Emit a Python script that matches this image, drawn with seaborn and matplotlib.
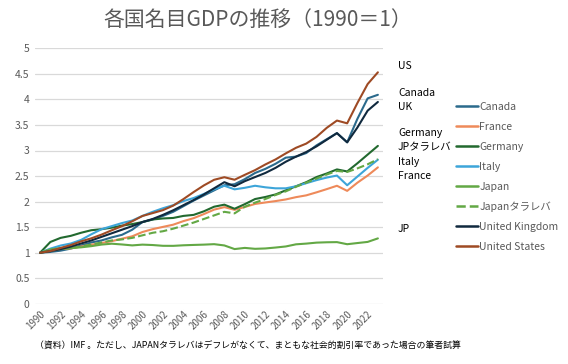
import numpy as np
import pandas as pd
import matplotlib
matplotlib.use("Agg")
import matplotlib.pyplot as plt
import seaborn as sns
from matplotlib.lines import Line2D

# data (1990 = 1)
years = list(range(1990, 2024))

canada = [1.00, 1.015, 1.04, 1.08, 1.14, 1.20, 1.24, 1.30, 1.35, 1.45, 1.60, 1.65, 1.72, 1.80, 1.91, 2.02, 2.12, 2.22, 2.32, 2.34,
          2.44, 2.56, 2.64, 2.74, 2.86, 2.88, 2.95, 3.10, 3.22, 3.34, 3.16, 3.62, 4.02, 4.09]
france = [1.00, 1.036, 1.073, 1.085, 1.12, 1.157, 1.19, 1.226, 1.274, 1.321, 1.405, 1.461, 1.505, 1.548, 1.618, 1.676, 1.756, 1.843, 1.892, 1.839,
          1.895, 1.954, 1.983, 2.010, 2.042, 2.087, 2.122, 2.181, 2.244, 2.31, 2.21, 2.37, 2.51, 2.67]
germany = [1.00, 1.21, 1.29, 1.33, 1.39, 1.44, 1.46, 1.49, 1.53, 1.56, 1.60, 1.65, 1.67, 1.68, 1.72, 1.74, 1.81, 1.90, 1.94, 1.86,
           1.95, 2.05, 2.09, 2.14, 2.22, 2.30, 2.38, 2.48, 2.55, 2.63, 2.59, 2.75, 2.92, 3.09]
italy = [1.00, 1.08, 1.14, 1.18, 1.25, 1.36, 1.46, 1.52, 1.58, 1.63, 1.72, 1.80, 1.87, 1.93, 2.01, 2.07, 2.15, 2.24, 2.31, 2.24,
         2.27, 2.31, 2.28, 2.26, 2.26, 2.30, 2.36, 2.42, 2.47, 2.51, 2.32, 2.49, 2.66, 2.82]
japan = [1.00, 1.064, 1.091, 1.092, 1.105, 1.128, 1.159, 1.176, 1.161, 1.143, 1.158, 1.150, 1.135, 1.134, 1.145, 1.152, 1.158, 1.167, 1.142, 1.071,
         1.094, 1.076, 1.083, 1.101, 1.122, 1.164, 1.178, 1.197, 1.204, 1.207, 1.166, 1.189, 1.211, 1.28]
japan_tarareba = [1.00, 1.04, 1.07, 1.09, 1.12, 1.16, 1.20, 1.24, 1.26, 1.29, 1.34, 1.39, 1.42, 1.47, 1.53, 1.59, 1.66, 1.73, 1.80, 1.77,
                  1.90, 1.98, 2.05, 2.13, 2.20, 2.29, 2.37, 2.45, 2.53, 2.60, 2.58, 2.65, 2.73, 2.83]
uk = [1.00, 1.03, 1.07, 1.12, 1.18, 1.24, 1.31, 1.38, 1.45, 1.52, 1.60, 1.66, 1.74, 1.83, 1.93, 2.03, 2.14, 2.26, 2.38, 2.30,
      2.40, 2.48, 2.56, 2.66, 2.78, 2.88, 2.97, 3.08, 3.21, 3.34, 3.16, 3.45, 3.78, 3.95]
us = [1.00, 1.033, 1.093, 1.150, 1.222, 1.281, 1.354, 1.439, 1.520, 1.615, 1.719, 1.775, 1.833, 1.921, 2.049, 2.187, 2.317, 2.427, 2.477, 2.428,
      2.524, 2.616, 2.726, 2.825, 2.943, 3.053, 3.135, 3.266, 3.443, 3.586, 3.532, 3.93, 4.30, 4.53]

series_names = ["Canada", "France", "Germany", "Italy", "Japan", "Japanタラレバ", "United Kingdom", "United States"]
series_values = [canada, france, germany, italy, japan, japan_tarareba, uk, us]
colors = ["#2B6A8C", "#EE8A5A", "#22692F", "#3DA5D9", "#63A845", "#63A845", "#10293E", "#9E4A24"]

end_labels = ["US", "Canada", "UK", "Germany", "JPタラレバ", "Italy", "France", "JP"]
end_label_y = [66, 93, 107, 133, 147, 162, 176, 229]  # pixel rows of the side notes

sns.set_theme(style="white")
plt.rcParams['font.family'] = ['Noto Sans CJK JP', 'DejaVu Sans']

W, H = 568, 364
fig = plt.figure(figsize=(W / 100, H / 100), dpi=100)
ax = fig.add_axes([35 / W, 1 - 303.8 / H, (383 - 35) / W, (303.8 - 48.3) / H])

df = pd.DataFrame({"year": years})
for name, vals, c in zip(series_names, series_values, colors):
    df[name] = vals
    sns.lineplot(x=df["year"], y=df[name], color=c, lw=1.5,
                 linestyle="--" if "タラレバ" in name else "-", ax=ax, zorder=3)

ax.set_xlim(1989.5, 2023.5)
ax.set_ylim(0, 5)
ax.set_yticks(np.arange(0, 5.01, 0.5))
ax.set_yticklabels(["0", "0.5", "1", "1.5", "2", "2.5", "3", "3.5", "4", "4.5", "5"], fontsize=7.5, color="#595959")
ax.set_xticks(years[::2])
ax.set_xticklabels([str(y) for y in years[::2]], rotation=45, ha="right", rotation_mode="anchor",
                   fontsize=7, color="#595959")
ax.tick_params(axis="both", length=0, pad=4)
ax.grid(axis="y", color="#D9D9D9", lw=0.9)
ax.grid(axis="x", visible=False)
for s in ax.spines.values():
    s.set_visible(False)
ax.set_xlabel("")
ax.set_ylabel("")

fig.text(258 / W, 1 - 20 / H, "各国名目GDPの推移（1990＝1）", ha="center", va="center",
         fontsize=15, color="#595959")

for lab, yy in zip(end_labels, end_label_y):
    fig.text(398 / W, 1 - yy / H, lab, ha="left", va="center", fontsize=7.5, color="black")

handles = [Line2D([0], [0], color=c, lw=1.8, linestyle="--" if "タラレバ" in n else "-")
           for n, c in zip(series_names, colors)]
leg = fig.legend(handles, series_names, loc="upper left", bbox_to_anchor=(456 / W, 1 - 102 / H),
                 frameon=False, fontsize=7.5, handlelength=2.1, handletextpad=0.15,
                 labelspacing=0.95, borderpad=0, borderaxespad=0)
for t in leg.get_texts():
    t.set_color("#595959")

fig.text(35 / W, 1 - 346 / H, "（資料）IMF 。ただし、JAPANタラレバはデフレがなくて、まともな社会的割引率であった場合の筆者試算",
         ha="left", va="center", fontsize=6.4, color="black")

fig.savefig("out.png", dpi=100, facecolor="white")
